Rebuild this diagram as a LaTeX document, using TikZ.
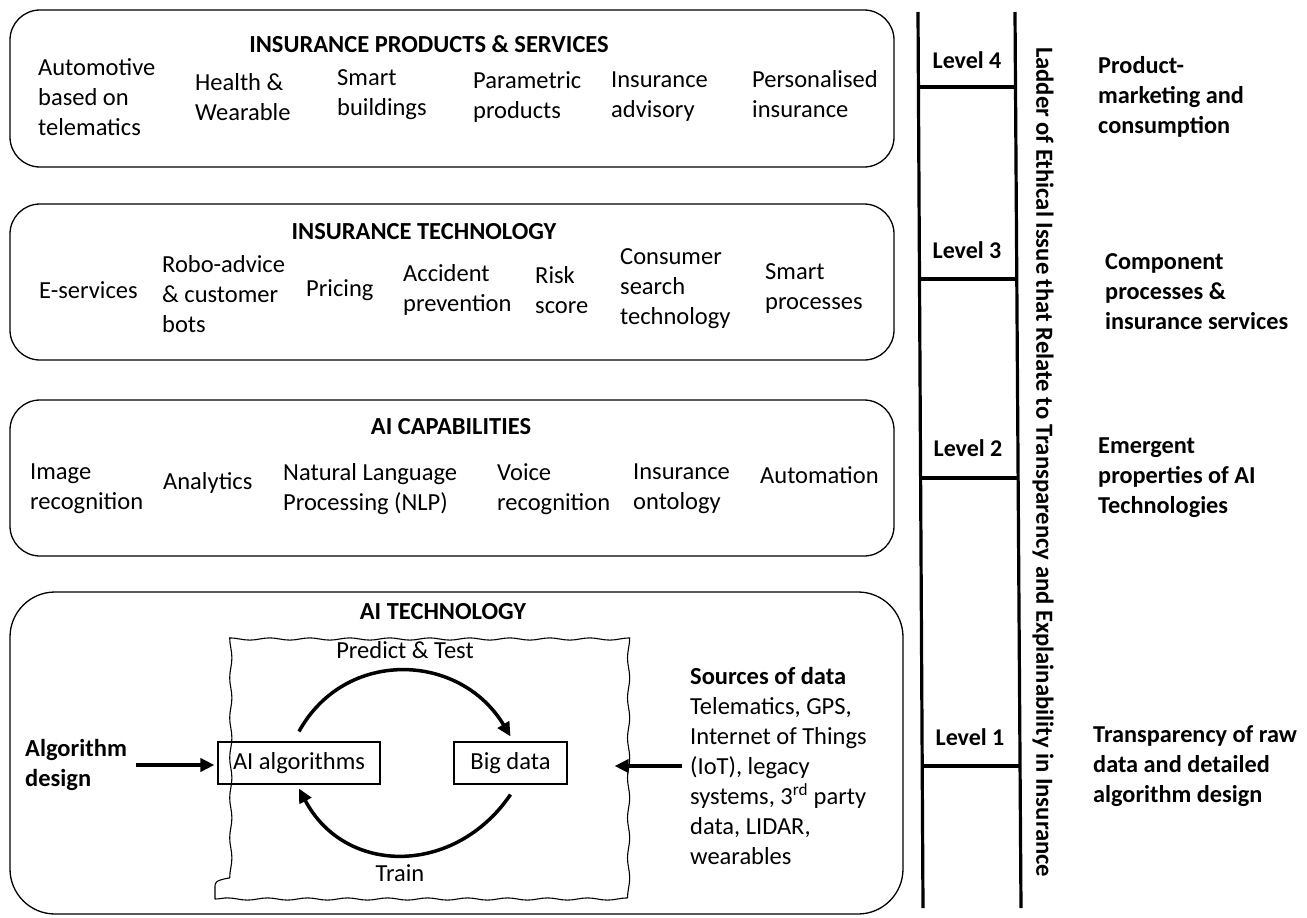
\documentclass[tikz,border=0pt]{standalone}
\usepackage{fontspec}
\setmainfont{Carlito}
\usetikzlibrary{arrows.meta,decorations.pathmorphing,calc}
\begin{document}
\begin{tikzpicture}[x=1pt,y=-1pt,
  panel/.style={draw, line width=1.3pt, rounded corners=30pt},
  item/.style={anchor=west, align=left, inner sep=0pt, font=\fontsize{24.5}{30}\selectfont},
  heading/.style={inner sep=0pt, font=\fontsize{24.5}{30}\selectfont\bfseries},
  side/.style={anchor=west, align=left, inner sep=0pt, font=\fontsize{24.3}{30}\selectfont\bfseries},
  lvl/.style={inner sep=0pt, font=\fontsize{24}{30}\selectfont\bfseries},
  smallbox/.style={draw, line width=1.1pt, inner sep=0pt, font=\fontsize{24.5}{30}\selectfont},
  arr/.style={line width=3.5pt, -{Triangle[length=14pt,width=13pt]}},
  rail/.style={line width=3.2pt},
]
\useasboundingbox (0,0) rectangle (1307,918);

% ---------- panel 1: products & services ----------
\draw[panel] (10,10) rectangle (894,167);
\node[heading] (t1) at (429,44) {INSURANCE PRODUCTS \& SERVICES};
\node[item] (a1) at (38,97)  {Automotive\\based on\\telematics};
\node[item] (a2) at (195,97) {Health \&\\Wearable};
\node[item] (a3) at (337,95) {Smart\\buildings};
\node[item] (a4) at (473,97) {Parametric\\products};
\node[item] (a5) at (611,97) {Insurance\\advisory};
\node[item] (a6) at (752,94) {Personalised\\insurance};

% ---------- panel 2: insurance technology ----------
\draw[panel] (10,204) rectangle (894,360);
\node[heading] (t2) at (424,232) {INSURANCE TECHNOLOGY};
\node[item] (b1) at (39,290)  {E-services};
\node[item] (b2) at (162,294) {Robo-advice\\\& customer\\bots};
\node[item] (b3) at (306,290) {Pricing};
\node[item] (b4) at (403,290) {Accident\\prevention};
\node[item] (b5) at (535,290) {Risk\\score};
\node[item] (b6) at (620,289) {Consumer\\search\\technology};
\node[item] (b7) at (765,289) {Smart\\processes};

% ---------- panel 3: AI capabilities ----------
\draw[panel] (10,400) rectangle (894,556);
\node[heading] (t3) at (451,427) {AI CAPABILITIES};
\node[item] (c1) at (30,489)  {Image\\recognition};
\node[item] (c2) at (163,483) {Analytics};
\node[item] (c3) at (283,489) {Natural Language\\Processing (NLP)};
\node[item] (c4) at (497,489) {Voice\\recognition};
\node[item] (c5) at (633,489) {Insurance\\ontology};
\node[item] (c6) at (760,475) {Automation};

% ---------- panel 4: AI technology ----------
\draw[panel, rounded corners=45pt] (10,592) rectangle (903,914);
\node[heading] (t4) at (443,612) {AI TECHNOLOGY};
\node[draw, line width=1.1pt, inner sep=0pt, minimum width=399pt, minimum height=269pt,
      decorate, decoration={snake, amplitude=1.1pt, segment length=40pt}]
      (frame) at (414.5,764.5) {};
\node[item, anchor=center] (pt) at (405,650) {Predict \& Test};
\node[item, anchor=center] (tr) at (400,873) {Train};
\node[smallbox, minimum width=162pt, minimum height=42pt] (alg) at (299,763) {AI algorithms};
\node[smallbox, minimum width=113pt, minimum height=42pt] (big) at (510.5,763) {Big data};
\draw[arr] ([yshift=10pt]alg.north) .. controls (345,648) and (460,652) .. ([yshift=5pt]big.north);
\draw[arr] ([yshift=-10pt]big.south) .. controls (455,876) and (345,876) .. ([yshift=-4pt]alg.south);

\node[item, font=\fontsize{24.5}{30}\selectfont\bfseries] (algd) at (25,765) {Algorithm\\design};
\draw[arr] ([xshift=9pt]algd.east) -- (frame.west |- algd.east);

\node[item] (src) at (690,766) {\textbf{Sources of data}\\Telematics, GPS,\\Internet of Things\\(IoT), legacy\\systems, 3\textsuperscript{rd} party\\data, LIDAR,\\wearables};
\draw[arr] ([xshift=-8pt]src.west) -- (frame.east |- src.west);

% ---------- ladder ----------
\coordinate (lt) at (918,12);  \coordinate (lb) at (923,908);
\coordinate (rt) at (1015,12); \coordinate (rb) at (1021,908);
\draw[rail] (lt) -- (lb);
\draw[rail] (rt) -- (rb);
\foreach \y in {87,279,478,766} {
  \pgfmathsetmacro{\f}{(\y-12)/896}
  \draw[rail] ($(lt)!\f!(lb)$) -- ($(rt)!\f!(rb)$);
}
\node[lvl] (l4) at (967,60)  {Level 4};
\node[lvl] (l3) at (967,250) {Level 3};
\node[lvl] (l2) at (968,448) {Level 2};
\node[lvl] (l1) at (970,737) {Level 1};
\node[lvl, rotate=-90, font=\fontsize{24.6}{30}\selectfont\bfseries] (ladder) at (1043,462)
  {Ladder of Ethical Issue that Relate to Transparency and Explainability in Insurance};

\node[side] (s4) at (1098,97)  {Product-\\marketing and\\consumption};
\node[side] (s3) at (1105,292) {Component\\processes \&\\insurance services};
\node[side] (s2) at (1098,478) {Emergent\\properties of AI\\Technologies};
\node[side] (s1) at (1093,766) {Transparency of raw\\data and detailed\\algorithm design};
\end{tikzpicture}
\end{document}
